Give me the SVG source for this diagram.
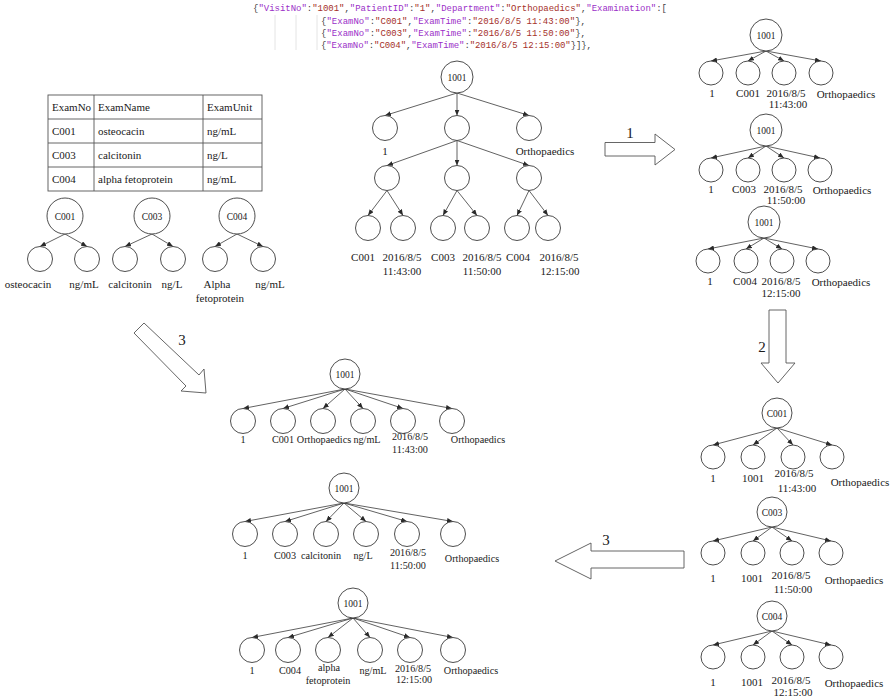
<svg xmlns="http://www.w3.org/2000/svg" width="894" height="698" viewBox="0 0 894 698">
<defs>
<marker id="ah" markerUnits="userSpaceOnUse" markerWidth="6" markerHeight="5" refX="6" refY="2.5" orient="auto">
<path d="M0,0 L6,2.5 L0,5 z" fill="#2a2a2a"/>
</marker>
<style>
.n{fill:#fff;stroke:#3a3a3a;stroke-width:0.9}
.e{stroke:#3a3a3a;stroke-width:0.8;fill:none;marker-end:url(#ah)}
.t{font-family:"Liberation Serif","Times New Roman",serif;font-size:11px;fill:#1a1a1a;text-anchor:middle}
.s{font-size:10.2px}
.r{font-size:9.5px}
.big{fill:#fff;stroke:#555;stroke-width:0.9}
.num{font-family:"Liberation Serif","Times New Roman",serif;font-size:15px;fill:#1a1a1a;text-anchor:middle}
.j{font-family:"Liberation Mono","Courier New",monospace;font-size:9px;fill:#444}
.k{fill:#9b30c8}
.v{fill:#a5302a}
.tb{fill:none;stroke:#555;stroke-width:0.9}
.tt{font-family:"Liberation Serif","Times New Roman",serif;font-size:11px;fill:#1a1a1a}
.g{stroke:#ddd;stroke-width:0.8}
</style>
</defs>
<rect width="894" height="698" fill="#fff"/>

<g id="json">
<line class="g" x1="275" y1="15" x2="275" y2="50"/>
<line class="g" x1="296" y1="15" x2="296" y2="50"/>
<line class="g" x1="317" y1="15" x2="317" y2="50"/>
<text class="j" x="253" y="11" textLength="414" lengthAdjust="spacing">{<tspan class="k">"VisitNo"</tspan>:<tspan class="v">"1001"</tspan>,<tspan class="k">"PatientID"</tspan>:<tspan class="v">"1"</tspan>,<tspan class="k">"Department"</tspan>:<tspan class="v">"Orthopaedics"</tspan>,<tspan class="k">"Examination"</tspan>:[</text>
<text class="j" x="321" y="24" textLength="265" lengthAdjust="spacing">{<tspan class="k">"ExamNo"</tspan>:<tspan class="v">"C001"</tspan>,<tspan class="k">"ExamTime"</tspan>:<tspan class="v">"2016/8/5 11:43:00"</tspan>},</text>
<text class="j" x="321" y="36" textLength="265" lengthAdjust="spacing">{<tspan class="k">"ExamNo"</tspan>:<tspan class="v">"C003"</tspan>,<tspan class="k">"ExamTime"</tspan>:<tspan class="v">"2016/8/5 11:50:00"</tspan>},</text>
<text class="j" x="321" y="48" textLength="271" lengthAdjust="spacing">{<tspan class="k">"ExamNo"</tspan>:<tspan class="v">"C004"</tspan>,<tspan class="k">"ExamTime"</tspan>:<tspan class="v">"2016/8/5 12:15:00"</tspan>}]},</text>
</g>

<g id="table">
<rect class="tb" x="48" y="95" width="214" height="96"/>
<line class="tb" x1="48" y1="119" x2="262" y2="119"/>
<line class="tb" x1="48" y1="143" x2="262" y2="143"/>
<line class="tb" x1="48" y1="167" x2="262" y2="167"/>
<line class="tb" x1="94" y1="95" x2="94" y2="191"/>
<line class="tb" x1="203" y1="95" x2="203" y2="191"/>
<text class="tt" x="52" y="111">ExamNo</text>
<text class="tt" x="98" y="111">ExamName</text>
<text class="tt" x="207" y="111">ExamUnit</text>
<text class="tt" x="52" y="135">C001</text>
<text class="tt" x="98" y="135">osteocacin</text>
<text class="tt" x="207" y="135">ng/mL</text>
<text class="tt" x="52" y="159">C003</text>
<text class="tt" x="98" y="159">calcitonin</text>
<text class="tt" x="207" y="159">ng/L</text>
<text class="tt" x="52" y="183">C004</text>
<text class="tt" x="98" y="183">alpha fetoprotein</text>
<text class="tt" x="207" y="183">ng/mL</text>
</g>

<g id="bigarrows">
<polygon class="big" points="605,142.5 655,142.5 655,134 675,149.5 655,165 655,156 605,156"/>
<polygon class="big" points="769,310 786,310 786,363 795,363 778,383 761,363 769,363"/>
<polygon class="big" points="144,323 199,375 204,369 206,393 181,391 186,386 134,333"/>
<polygon class="big" points="684,551 591,551 591,543 555,561 591,579 591,568 684,568"/>
<text class="num" x="630" y="138">1</text>
<text class="num" x="762" y="352">2</text>
<text class="num" x="182" y="345">3</text>
<text class="num" x="606" y="545">3</text>
</g>

<g id="connectors">
<line class="e" x1="65" y1="234" x2="40" y2="246.5"/>
<line class="e" x1="65" y1="234" x2="87" y2="246.5"/>
<line class="e" x1="152" y1="234" x2="125" y2="246.5"/>
<line class="e" x1="152" y1="234" x2="173" y2="246.5"/>
<line class="e" x1="237" y1="234" x2="215" y2="246.5"/>
<line class="e" x1="237" y1="234" x2="263" y2="246.5"/>
<line class="e" x1="457" y1="93" x2="385" y2="115.5"/>
<line class="e" x1="457" y1="93" x2="457" y2="115.5"/>
<line class="e" x1="457" y1="93" x2="529" y2="115.5"/>
<line class="e" x1="457" y1="140.5" x2="387" y2="165.5"/>
<line class="e" x1="457" y1="140.5" x2="457" y2="165.5"/>
<line class="e" x1="457" y1="140.5" x2="529" y2="165.5"/>
<line class="e" x1="387" y1="190.5" x2="368" y2="215.5"/>
<line class="e" x1="387" y1="190.5" x2="403" y2="215.5"/>
<line class="e" x1="457" y1="190.5" x2="443" y2="215.5"/>
<line class="e" x1="457" y1="190.5" x2="477" y2="215.5"/>
<line class="e" x1="529" y1="190.5" x2="517" y2="215.5"/>
<line class="e" x1="529" y1="190.5" x2="548" y2="215.5"/>
<line class="e" x1="766" y1="51" x2="711" y2="61"/>
<line class="e" x1="766" y1="51" x2="748" y2="61"/>
<line class="e" x1="766" y1="51" x2="784" y2="61"/>
<line class="e" x1="766" y1="51" x2="821" y2="61"/>
<line class="e" x1="766" y1="146" x2="711" y2="158"/>
<line class="e" x1="766" y1="146" x2="748" y2="158"/>
<line class="e" x1="766" y1="146" x2="784" y2="158"/>
<line class="e" x1="766" y1="146" x2="820" y2="158"/>
<line class="e" x1="764" y1="238" x2="708" y2="249"/>
<line class="e" x1="764" y1="238" x2="746" y2="249"/>
<line class="e" x1="764" y1="238" x2="782" y2="249"/>
<line class="e" x1="764" y1="238" x2="818" y2="249"/>
<line class="e" x1="777" y1="428" x2="713" y2="445"/>
<line class="e" x1="777" y1="428" x2="753" y2="445"/>
<line class="e" x1="777" y1="428" x2="793" y2="445"/>
<line class="e" x1="777" y1="428" x2="832" y2="445"/>
<line class="e" x1="772" y1="527" x2="713" y2="541"/>
<line class="e" x1="772" y1="527" x2="753" y2="541"/>
<line class="e" x1="772" y1="527" x2="792" y2="541"/>
<line class="e" x1="772" y1="527" x2="831" y2="541"/>
<line class="e" x1="772" y1="631" x2="713" y2="645"/>
<line class="e" x1="772" y1="631" x2="753" y2="645"/>
<line class="e" x1="772" y1="631" x2="792" y2="645"/>
<line class="e" x1="772" y1="631" x2="831" y2="645"/>
<line class="e" x1="345" y1="389" x2="243" y2="408.5"/>
<line class="e" x1="345" y1="389" x2="283" y2="408.5"/>
<line class="e" x1="345" y1="389" x2="323" y2="408.5"/>
<line class="e" x1="345" y1="389" x2="363" y2="408.5"/>
<line class="e" x1="345" y1="389" x2="403" y2="408.5"/>
<line class="e" x1="345" y1="389" x2="452" y2="408.5"/>
<line class="e" x1="344" y1="503" x2="245" y2="521.5"/>
<line class="e" x1="344" y1="503" x2="285" y2="521.5"/>
<line class="e" x1="344" y1="503" x2="326" y2="521.5"/>
<line class="e" x1="344" y1="503" x2="366" y2="521.5"/>
<line class="e" x1="344" y1="503" x2="407" y2="521.5"/>
<line class="e" x1="344" y1="503" x2="453" y2="521.5"/>
<line class="e" x1="353" y1="618" x2="252" y2="637.5"/>
<line class="e" x1="353" y1="618" x2="288" y2="637.5"/>
<line class="e" x1="353" y1="618" x2="328" y2="637.5"/>
<line class="e" x1="353" y1="618" x2="370" y2="637.5"/>
<line class="e" x1="353" y1="618" x2="410" y2="637.5"/>
<line class="e" x1="353" y1="618" x2="453" y2="637.5"/>
</g>

<g id="L1">
<circle class="n" cx="65" cy="216" r="18"/><text class="t r" x="65" y="219.5">C001</text>
<circle class="n" cx="40" cy="259" r="12.5"/><text class="t" x="28" y="288">osteocacin</text>
<circle class="n" cx="87" cy="259" r="12.5"/><text class="t" x="84" y="288">ng/mL</text>
</g>
<g id="L2">
<circle class="n" cx="152" cy="216" r="18"/><text class="t r" x="152" y="219.5">C003</text>
<circle class="n" cx="125" cy="259" r="12.5"/><text class="t" x="130" y="288">calcitonin</text>
<circle class="n" cx="173" cy="259" r="12.5"/><text class="t" x="172" y="288">ng/L</text>
</g>
<g id="L3">
<circle class="n" cx="237" cy="216" r="18"/><text class="t r" x="237" y="219.5">C004</text>
<circle class="n" cx="215" cy="259" r="12.5"/><text class="t" x="217" y="288">Alpha</text><text class="t" x="220" y="302">fetoprotein</text>
<circle class="n" cx="263" cy="259" r="12.5"/><text class="t" x="270" y="288">ng/mL</text>
</g>

<g id="C">
<circle class="n" cx="457" cy="77" r="16"/><text class="t r" x="457" y="80.5">1001</text>
<circle class="n" cx="385" cy="128" r="12.5"/><text class="t" x="385" y="155">1</text>
<circle class="n" cx="457" cy="128" r="12.5"/>
<circle class="n" cx="529" cy="128" r="12.5"/><text class="t" x="545" y="155">Orthopaedics</text>
<circle class="n" cx="387" cy="178" r="12.5"/>
<circle class="n" cx="457" cy="178" r="12.5"/>
<circle class="n" cx="529" cy="178" r="12.5"/>
<circle class="n" cx="368" cy="228" r="12.5"/><text class="t" x="363" y="261">C001</text>
<circle class="n" cx="403" cy="228" r="12.5"/><text class="t" x="402" y="261">2016/8/5</text><text class="t" x="402" y="275">11:43:00</text>
<circle class="n" cx="443" cy="228" r="12.5"/><text class="t" x="443" y="261">C003</text>
<circle class="n" cx="477" cy="228" r="12.5"/><text class="t" x="482" y="261">2016/8/5</text><text class="t" x="482" y="275">11:50:00</text>
<circle class="n" cx="517" cy="228" r="12.5"/><text class="t" x="518" y="261">C004</text>
<circle class="n" cx="548" cy="228" r="12.5"/><text class="t" x="559" y="261">2016/8/5</text><text class="t" x="560" y="275">12:15:00</text>
</g>

<g id="R1">
<circle class="n" cx="766" cy="35" r="16"/><text class="t r" x="766" y="38.5">1001</text>
<circle class="n" cx="711" cy="73" r="12"/><text class="t" x="712" y="97">1</text>
<circle class="n" cx="748" cy="73" r="12"/><text class="t" x="748" y="97">C001</text>
<circle class="n" cx="784" cy="73" r="12"/><text class="t" x="786" y="97">2016/8/5</text><text class="t" x="788" y="108">11:43:00</text>
<circle class="n" cx="821" cy="73" r="12"/><text class="t" x="846" y="98">Orthopaedics</text>
</g>
<g id="R2">
<circle class="n" cx="766" cy="130" r="16"/><text class="t r" x="766" y="133.5">1001</text>
<circle class="n" cx="711" cy="170" r="12"/><text class="t" x="711" y="193">1</text>
<circle class="n" cx="748" cy="170" r="12"/><text class="t" x="744" y="193">C003</text>
<circle class="n" cx="784" cy="170" r="12"/><text class="t" x="783" y="193">2016/8/5</text><text class="t" x="786" y="204">11:50:00</text>
<circle class="n" cx="820" cy="170" r="12"/><text class="t" x="842" y="194">Orthopaedics</text>
</g>
<g id="R3">
<circle class="n" cx="764" cy="222" r="16"/><text class="t r" x="764" y="225.5">1001</text>
<circle class="n" cx="708" cy="261" r="12"/><text class="t" x="710" y="285">1</text>
<circle class="n" cx="746" cy="261" r="12"/><text class="t" x="745" y="285">C004</text>
<circle class="n" cx="782" cy="261" r="12"/><text class="t" x="781" y="285">2016/8/5</text><text class="t" x="781" y="297">12:15:00</text>
<circle class="n" cx="818" cy="261" r="12"/><text class="t" x="841" y="286">Orthopaedics</text>
</g>
<g id="R4">
<circle class="n" cx="777" cy="413" r="15"/><text class="t r" x="777" y="416.5">C001</text>
<circle class="n" cx="713" cy="457" r="12"/><text class="t" x="713" y="482">1</text>
<circle class="n" cx="753" cy="457" r="12"/><text class="t" x="753" y="482">1001</text>
<circle class="n" cx="793" cy="457" r="12"/><text class="t" x="794" y="477">2016/8/5</text><text class="t" x="797" y="492">11:43:00</text>
<circle class="n" cx="832" cy="457" r="12"/><text class="t" x="860" y="486">Orthopaedics</text>
</g>
<g id="R5">
<circle class="n" cx="772" cy="512" r="15"/><text class="t r" x="772" y="515.5">C003</text>
<circle class="n" cx="713" cy="553" r="12"/><text class="t" x="713" y="582">1</text>
<circle class="n" cx="753" cy="553" r="12"/><text class="t" x="752" y="582">1001</text>
<circle class="n" cx="792" cy="553" r="12"/><text class="t" x="791" y="579">2016/8/5</text><text class="t" x="793" y="593">11:50:00</text>
<circle class="n" cx="831" cy="553" r="12"/><text class="t" x="854" y="584">Orthopaedics</text>
</g>
<g id="R6">
<circle class="n" cx="772" cy="616" r="15"/><text class="t r" x="772" y="619.5">C004</text>
<circle class="n" cx="713" cy="657" r="12"/><text class="t" x="713" y="686">1</text>
<circle class="n" cx="753" cy="657" r="12"/><text class="t" x="752" y="686">1001</text>
<circle class="n" cx="792" cy="657" r="12"/><text class="t" x="791" y="684">2016/8/5</text><text class="t" x="793" y="696">12:15:00</text>
<circle class="n" cx="831" cy="657" r="12"/><text class="t" x="854" y="687">Orthopaedics</text>
</g>

<g id="B1">
<circle class="n" cx="345" cy="374" r="15"/><text class="t r" x="345" y="377.5">1001</text>
<circle class="n" cx="243" cy="421" r="12.5"/><text class="t s" x="243" y="443">1</text>
<circle class="n" cx="283" cy="421" r="12.5"/><text class="t s" x="283" y="443">C001</text>
<circle class="n" cx="323" cy="421" r="12.5"/><text class="t s" x="324" y="443">Orthopaedics</text>
<circle class="n" cx="363" cy="421" r="12.5"/><text class="t s" x="367" y="443">ng/mL</text>
<circle class="n" cx="403" cy="421" r="12.5"/><text class="t s" x="410" y="440">2016/8/5</text><text class="t s" x="410" y="453">11:43:00</text>
<circle class="n" cx="452" cy="421" r="12.5"/><text class="t s" x="478" y="443">Orthopaedics</text>
</g>
<g id="B2">
<circle class="n" cx="344" cy="488" r="15"/><text class="t r" x="344" y="491.5">1001</text>
<circle class="n" cx="245" cy="534" r="12.5"/><text class="t s" x="245" y="559">1</text>
<circle class="n" cx="285" cy="534" r="12.5"/><text class="t s" x="285" y="559">C003</text>
<circle class="n" cx="326" cy="534" r="12.5"/><text class="t s" x="321" y="559">calcitonin</text>
<circle class="n" cx="366" cy="534" r="12.5"/><text class="t s" x="363" y="559">ng/L</text>
<circle class="n" cx="407" cy="534" r="12.5"/><text class="t s" x="408" y="556">2016/8/5</text><text class="t s" x="408" y="569">11:50:00</text>
<circle class="n" cx="453" cy="534" r="12.5"/><text class="t s" x="472" y="562">Orthopaedics</text>
</g>
<g id="B3">
<circle class="n" cx="353" cy="603" r="15"/><text class="t r" x="353" y="606.5">1001</text>
<circle class="n" cx="252" cy="650" r="12.5"/><text class="t s" x="252" y="674">1</text>
<circle class="n" cx="288" cy="650" r="12.5"/><text class="t s" x="290" y="674">C004</text>
<circle class="n" cx="328" cy="650" r="12.5"/><text class="t s" x="329" y="671">alpha</text><text class="t s" x="328" y="684">fetoprotein</text>
<circle class="n" cx="370" cy="650" r="12.5"/><text class="t s" x="373" y="674">ng/mL</text>
<circle class="n" cx="410" cy="650" r="12.5"/><text class="t s" x="413" y="672">2016/8/5</text><text class="t s" x="414" y="683">12:15:00</text>
<circle class="n" cx="453" cy="650" r="12.5"/><text class="t s" x="471" y="674">Orthopaedics</text>
</g>
</svg>
